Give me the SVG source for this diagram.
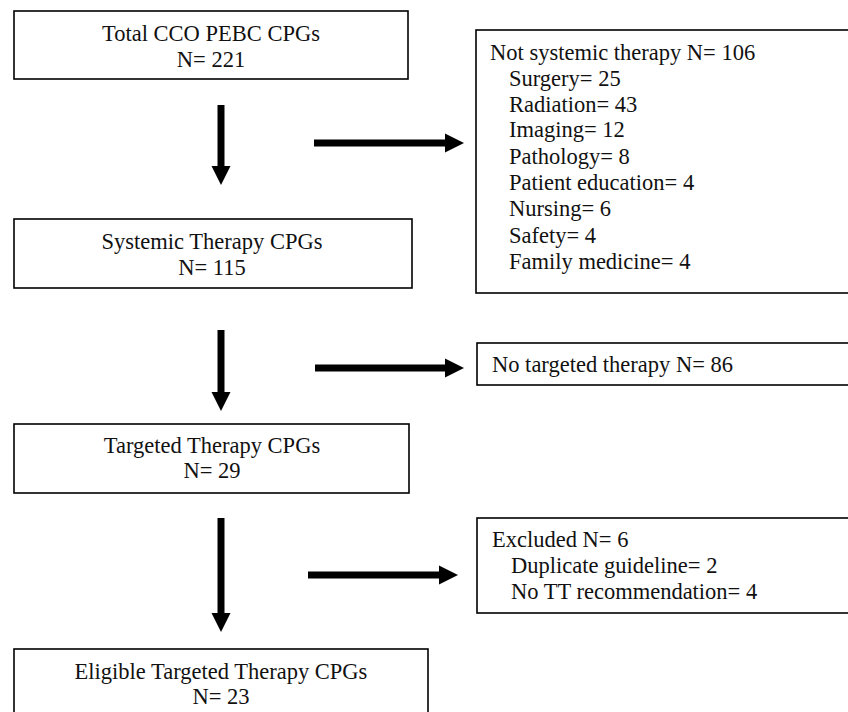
<svg xmlns="http://www.w3.org/2000/svg" width="848" height="712" viewBox="0 0 848 712">
<defs>
<marker id="ah" markerUnits="userSpaceOnUse" markerWidth="20" markerHeight="20" refX="0" refY="10" orient="auto" viewBox="0 0 20 20">
<path d="M0,0.5 L19,10 L0,19.5 z" fill="#000"/>
</marker>
<style>
.box{fill:#fff;stroke:#000;stroke-width:1.6}
.t{font-family:"Liberation Serif","Times New Roman",serif;font-size:22.5px;fill:#111}
.c{text-anchor:middle}
.arr{stroke:#000;stroke-width:7;fill:none;marker-end:url(#ah)}
</style>
</defs>
<rect width="848" height="712" fill="#fff"/>
<g id="total">
<rect class="box" x="14" y="11" width="394" height="68"/>
<text class="t c" x="211" y="41">Total CCO PEBC CPGs</text>
<text class="t c" x="211" y="67">N= 221</text>
</g>
<g id="not-systemic">
<rect class="box" x="476" y="30" width="380" height="263"/>
<text class="t" x="490" y="60">Not systemic therapy N= 106</text>
<text class="t" x="509" y="86">Surgery= 25</text>
<text class="t" x="509" y="112">Radiation= 43</text>
<text class="t" x="509" y="137">Imaging= 12</text>
<text class="t" x="509" y="164">Pathology= 8</text>
<text class="t" x="509" y="190">Patient education= 4</text>
<text class="t" x="509" y="216">Nursing= 6</text>
<text class="t" x="509" y="243">Safety= 4</text>
<text class="t" x="509" y="269">Family medicine= 4</text>
</g>
<g id="systemic">
<rect class="box" x="14" y="219" width="398" height="69"/>
<text class="t c" x="212" y="249">Systemic Therapy CPGs</text>
<text class="t c" x="212" y="275">N= 115</text>
</g>
<g id="no-targeted">
<rect class="box" x="477" y="343" width="380" height="42"/>
<text class="t" x="492" y="372">No targeted therapy N= 86</text>
</g>
<g id="targeted">
<rect class="box" x="14" y="424" width="395" height="69"/>
<text class="t c" x="212" y="453">Targeted Therapy CPGs</text>
<text class="t c" x="212" y="478">N= 29</text>
</g>
<g id="excluded">
<rect class="box" x="477" y="518" width="380" height="95"/>
<text class="t" x="492" y="547">Excluded N= 6</text>
<text class="t" x="511" y="573">Duplicate guideline= 2</text>
<text class="t" x="511" y="599">No TT recommendation= 4</text>
</g>
<g id="eligible">
<rect class="box" x="14" y="649" width="414" height="80"/>
<text class="t c" x="221" y="679">Eligible Targeted Therapy CPGs</text>
<text class="t c" x="221" y="704">N= 23</text>
</g>
<g id="connectors">
<line class="arr" x1="221" y1="105" x2="221" y2="166"/>
<line class="arr" x1="314" y1="143" x2="445" y2="143"/>
<line class="arr" x1="221" y1="330" x2="221" y2="392"/>
<line class="arr" x1="315" y1="368" x2="445" y2="368"/>
<line class="arr" x1="221" y1="518" x2="221" y2="613"/>
<line class="arr" x1="308" y1="575" x2="439" y2="575"/>
</g>
</svg>
